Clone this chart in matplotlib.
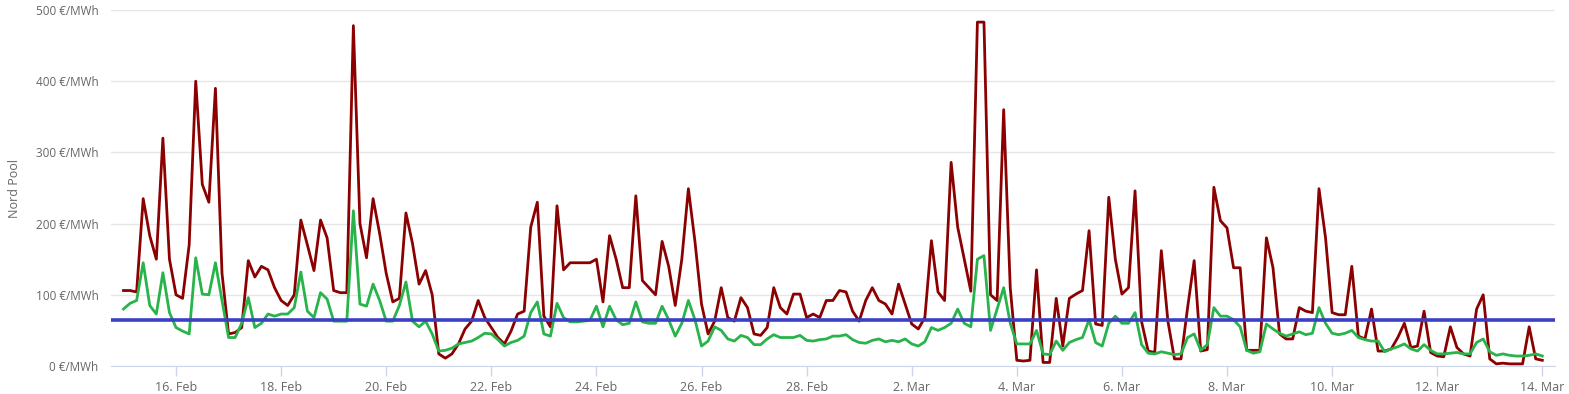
import matplotlib
matplotlib.use("Agg")
import matplotlib.pyplot as plt
import pandas as pd

# 3-hourly values, 15 Feb 00:00 -> 14 Mar 00:00
start = "2025-02-15 00:00"
red_price = [
    106, 106, 104, 235, 183, 150, 320, 150,   # 15 Feb
    100, 95, 170, 400, 255, 230, 390, 130,    # 16 Feb
    45, 47, 54, 148, 125, 140, 135, 110,      # 17 Feb
    92, 85, 100, 205, 170, 134, 205, 180,     # 18 Feb
    106, 103, 103, 478, 200, 152, 235, 186,   # 19 Feb
    130, 90, 95, 215, 172, 115, 134, 100,     # 20 Feb
    17, 11, 17, 31, 52, 63, 92, 68,           # 21 Feb
    54, 40, 31, 49, 73, 77, 195, 230,         # 22 Feb
    70, 55, 225, 135, 145, 145, 145, 145,     # 23 Feb
    150, 90, 183, 150, 110, 110, 239, 120,    # 24 Feb
    110, 100, 175, 140, 85, 150, 249, 175,    # 25 Feb
    87, 45, 63, 110, 68, 63, 96, 82,          # 26 Feb
    45, 43, 54, 110, 82, 73, 101, 101,        # 27 Feb
    68, 73, 68, 92, 92, 106, 104, 77,         # 28 Feb
    63, 92, 110, 92, 87, 73, 115, 87,         # 1 Mar
    59, 52, 68, 176, 104, 92, 286, 195,       # 2 Mar
    150, 105, 483, 483, 100, 92, 360, 110,    # 3 Mar
    8, 7, 8, 135, 5, 5, 95, 28,               # 4 Mar
    95, 101, 106, 190, 59, 57, 237, 150,      # 5 Mar
    101, 110, 246, 62, 21, 19, 162, 63,       # 6 Mar
    10, 10, 82, 148, 21, 23, 251, 204,        # 7 Mar
    194, 138, 138, 22, 22, 22, 180, 138,      # 8 Mar
    45, 38, 38, 82, 77, 75, 249, 180,         # 9 Mar
    75, 72, 72, 140, 42, 38, 80, 21,          # 10 Mar
    21, 24, 40, 60, 26, 28, 77, 19,           # 11 Mar
    14, 13, 55, 26, 17, 14, 80, 100,          # 12 Mar
    10, 3, 4, 3, 3, 3, 55, 10,                # 13 Mar
    8,                                        # 14 Mar
]
green_price = [
    80, 88, 92, 145, 85, 73, 131, 75,
    54, 49, 45, 152, 101, 100, 145, 92,
    40, 40, 60, 96, 54, 60, 73, 70,
    73, 73, 82, 132, 77, 68, 103, 94,
    63, 63, 63, 218, 87, 84, 115, 92,
    63, 63, 85, 118, 63, 55, 63, 45,
    21, 22, 25, 31, 33, 35, 40, 46,
    45, 37, 28, 33, 36, 42, 75, 90,
    45, 42, 88, 68, 62, 62, 63, 64,
    84, 55, 84, 65, 58, 60, 90, 62,
    60, 60, 84, 65, 42, 60, 92, 65,
    28, 35, 55, 50, 38, 35, 43, 40,
    30, 30, 38, 44, 40, 40, 40, 43,
    36, 35, 37, 38, 42, 42, 44, 37,
    33, 32, 36, 38, 34, 36, 34, 38,
    31, 28, 34, 54, 50, 54, 60, 80,
    60, 55, 150, 155, 50, 80, 110, 60,
    31, 31, 31, 50, 17, 16, 35, 22,
    33, 37, 40, 65, 33, 28, 60, 70,
    60, 60, 75, 30, 18, 17, 20, 18,
    16, 17, 40, 45, 22, 30, 82, 70,
    70, 65, 55, 22, 18, 20, 59, 52,
    46, 42, 45, 48, 44, 46, 82, 60,
    46, 44, 46, 50, 40, 37, 35, 35,
    20, 24, 27, 31, 24, 21, 30, 22,
    17, 17, 18, 19, 17, 17, 33, 38,
    20, 15, 17, 15, 14, 14, 15, 17,
    14,
]
reference_level = 65
y_ticks = [0, 100, 200, 300, 400, 500]
y_label = "Nord Pool"

times = pd.date_range(start, periods=len(red_price), freq="3h")

plt.rcParams['font.family'] = ['Open Sans', 'DejaVu Sans']
W, H = 1569, 394
fig = plt.figure(figsize=(W / 100, H / 100), dpi=100)
ax = fig.add_axes([111 / W, 1 - 366 / H, (1555 - 111) / W, (366 - 10) / H])

ax.plot(times, red_price, color="#8b0000", lw=2.0, zorder=3)
ax.plot(times, green_price, color="#28b34b", lw=2.0, zorder=4)
ax.axhline(reference_level, color="#3a3fc4", lw=2.6, zorder=5)

x0 = pd.Timestamp("2025-02-15 00:00") - pd.Timedelta(hours=5.7)
x1 = pd.Timestamp("2025-03-14 00:00") + pd.Timedelta(hours=5.8)
ax.set_xlim(x0, x1)
ax.set_ylim(0, 500)

ax.set_yticks(y_ticks)
ax.set_yticklabels([f"{v} €/MWh" for v in y_ticks])
ax.grid(axis="y", color="#e6e6e6", lw=1, zorder=0)
ax.tick_params(axis="y", length=0, pad=9, labelsize=8.5, colors="#666666")

tick_dates = pd.date_range("2025-02-16", "2025-03-14", freq="2D")
ax.set_xticks(tick_dates)
ax.set_xticklabels([f"{d.day}. {d.strftime('%b')}" for d in tick_dates])
ax.tick_params(axis="x", length=7, width=1, color="#ccd6eb", labelsize=9,
               labelcolor="#666666", pad=4)

for s in ["top", "right", "left"]:
    ax.spines[s].set_visible(False)
ax.spines["bottom"].set_color("#ccd6eb")

ax.set_ylabel(y_label, color="#666666", fontsize=9)
ax.yaxis.set_label_coords(-0.0625, 0.5)

fig.savefig("out.png", dpi=100)
